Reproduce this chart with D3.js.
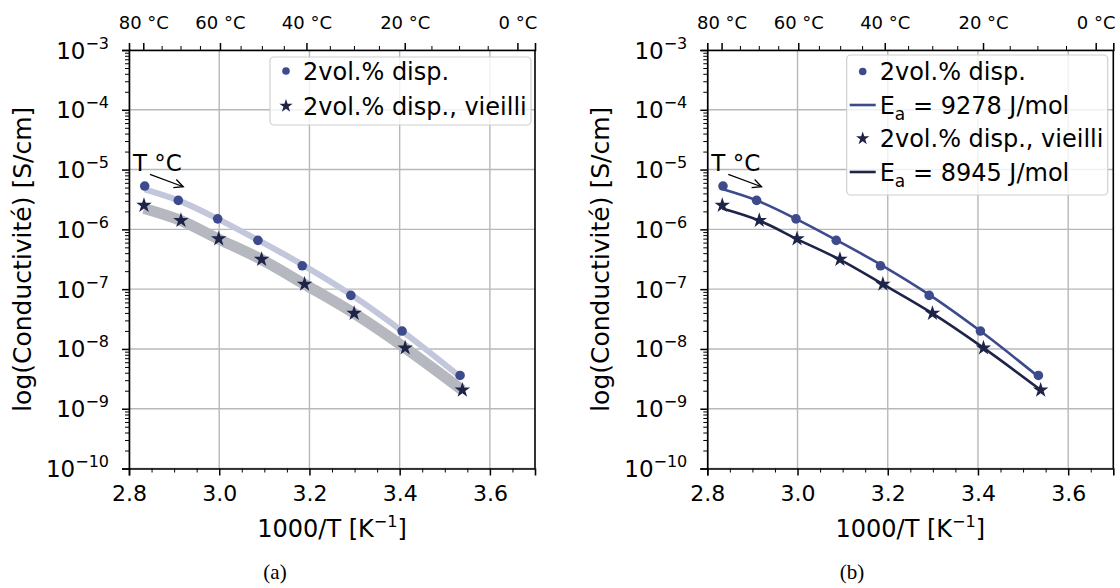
<!DOCTYPE html>
<html><head><meta charset="utf-8">
<script src="https://cdn.jsdelivr.net/npm/d3@7"></script>
<style>
body{margin:0;background:#fff;}
svg{display:block;font-family:"DejaVu Sans",sans-serif;}
</style></head>
<body><svg id="c" width="1120" height="588"></svg>
<script>
// ---- data ----
const xTicks = [2.8, 3.0, 3.2, 3.4, 3.6];
const xMinorTicks = [2.85, 2.9, 2.95, 3.05, 3.1, 3.15, 3.25, 3.3, 3.35, 3.45, 3.5, 3.55, 3.65];
const tempTicks = [80, 60, 40, 20, 0];
const tempMinorTicks = [75, 70, 65, 55, 50, 45, 35, 30, 25, 15, 10, 5];
const yDecades = [-3, -4, -5, -6, -7, -8, -9, -10];

const dispX = [2.8348, 2.9093, 2.9966, 3.0858, 3.1840, 3.2918, 3.4054, 3.5339];
const dispY = [5.30e-6, 3.05e-6, 1.50e-6, 6.55e-7, 2.46e-7, 7.86e-8, 1.99e-8, 3.60e-9];
const agedX = [2.8332, 2.9152, 2.9989, 3.0940, 3.1892, 3.2991, 3.4122, 3.5390];
const agedY = [2.52e-6, 1.41e-6, 6.95e-7, 3.15e-7, 1.21e-7, 3.93e-8, 1.04e-8, 2.05e-9];
const fitDispY = [4.67e-6, 3.05e-6, 1.50e-6, 6.62e-7, 2.58e-7, 8.11e-8, 1.99e-8, 3.44e-9];
const fitAgedY = [2.23e-6, 1.40e-6, 6.87e-7, 3.12e-7, 1.21e-7, 3.93e-8, 1.04e-8, 2.05e-9];

const labelDisp = "2vol.% disp.";
const labelAged = "2vol.% disp., vieilli";
const eaDisp = "9278";
const eaAged = "8945";
const captions = ["(a)", "(b)"];

// ---- styles ----
const cBlue = "#3d4b8c", cDark = "#1e2348";
const svg = d3.select("#c");
const plotTop = 50, plotBottom = 468.5;
const panels = [
  {left: 129, right: 535, fits: "band", legTop: 57, legH: 68, legStart: 71, legStep: 35},
  {left: 707.3, right: 1113.3, fits: "line", legTop: 55, legH: 140, legStart: 71.5, legStep: 33.5}
];

const starSym = d3.symbol().type(d3.symbolStar);
const toInv = t => 1000 / (t + 273.15);

panels.forEach((p, pi) => {
  const g = svg.append("g");
  const x = d3.scaleLinear().domain([2.8, 3.7]).range([p.left, p.right]);
  const y = d3.scaleLog().domain([1e-10, 1e-3]).range([plotBottom, plotTop]);

  // grid
  g.append("g").selectAll("line").data(xTicks).join("line")
    .attr("x1", d => x(d)).attr("x2", d => x(d)).attr("y1", plotTop).attr("y2", plotBottom)
    .attr("stroke", "#b8b8b8").attr("stroke-width", 1.4);
  g.append("g").selectAll("line").data(yDecades).join("line")
    .attr("x1", p.left).attr("x2", p.right).attr("y1", d => y(Math.pow(10, d))).attr("y2", d => y(Math.pow(10, d)))
    .attr("stroke", "#b8b8b8").attr("stroke-width", 1.4);

  // fits
  const lineD = d3.line().curve(d3.curveMonotoneX);
  const dispFit = lineD(dispX.map((d, i) => [x(d), y(fitDispY[i])]));
  const agedFit = lineD(agedX.map((d, i) => [x(d), y(fitAgedY[i])]));
  if (p.fits === "band") {
    g.append("path").attr("d", agedFit).attr("fill", "none").attr("stroke", "#b6b8c0").attr("stroke-width", 11);
    g.append("path").attr("d", dispFit).attr("fill", "none").attr("stroke", "#c3c7dc").attr("stroke-width", 6);
  } else {
    g.append("path").attr("d", dispFit).attr("fill", "none").attr("stroke", cBlue).attr("stroke-width", 2.6);
    g.append("path").attr("d", agedFit).attr("fill", "none").attr("stroke", cDark).attr("stroke-width", 2.6);
  }

  // markers
  g.append("g").selectAll("circle").data(dispX).join("circle")
    .attr("cx", d => x(d)).attr("cy", (d, i) => y(dispY[i])).attr("r", 4.8).attr("fill", cBlue);
  g.append("g").selectAll("path").data(agedX).join("path")
    .attr("d", starSym.size(75)())
    .attr("transform", (d, i) => `translate(${x(d)},${y(agedY[i])})`)
    .attr("fill", cDark);

  // axes
  const ax = g.append("g").attr("transform", `translate(0,${plotBottom})`)
    .call(d3.axisBottom(x).tickValues(xTicks).tickFormat(d3.format(".1f")).tickSize(7).tickPadding(10));
  g.append("g").attr("transform", `translate(0,${plotBottom})`)
    .call(d3.axisBottom(x).tickValues(xMinorTicks).tickFormat("").tickSize(4)).select(".domain").remove();

  const topAx = g.append("g").attr("transform", `translate(0,${plotTop})`)
    .call(d3.axisTop(x).tickValues(tempTicks.map(toInv)).tickFormat((d, i) => tempTicks[i] + " °C").tickSize(7).tickPadding(14));
  g.append("g").attr("transform", `translate(0,${plotTop})`)
    .call(d3.axisTop(x).tickValues(tempMinorTicks.map(toInv)).tickFormat("").tickSize(4)).select(".domain").remove();

  const yMinorVals = [];
  yDecades.slice(0, -1).forEach(e => { for (let k = 2; k <= 9; k++) yMinorVals.push(k * Math.pow(10, e - 1)); });

  const ay = g.append("g").attr("transform", `translate(${p.left},0)`)
    .call(d3.axisLeft(y).tickValues(yDecades.map(e => Math.pow(10, e))).tickFormat("").tickSize(7));
  g.append("g").attr("transform", `translate(${p.left},0)`)
    .call(d3.axisLeft(y).tickValues(yMinorVals).tickFormat("").tickSize(4)).select(".domain").remove();

  // right spine
  g.append("line").attr("x1", p.right).attr("x2", p.right).attr("y1", plotTop).attr("y2", plotBottom)
    .attr("stroke", "#000").attr("stroke-width", 1.6);

  [ax, topAx, ay].forEach(a => {
    a.select(".domain").attr("stroke-width", 1.6);
    a.selectAll(".tick line").attr("stroke-width", 1.5);
    a.selectAll("text").attr("font-family", "DejaVu Sans").attr("fill", "#000");
  });
  ax.selectAll("text").attr("font-size", 22);
  topAx.selectAll("text").attr("font-size", 18);
  g.selectAll(".tick line").attr("stroke", "#000");

  // y tick labels with superscript
  yDecades.forEach(e => {
    const t = g.append("text").attr("x", p.left - 20).attr("y", y(Math.pow(10, e)) + 8.5)
      .attr("text-anchor", "end").attr("font-size", 23);
    t.append("tspan").text("10");
    t.append("tspan").attr("dy", -10).attr("font-size", 16).text("−" + Math.abs(e));
  });

  // axis labels
  const xl = g.append("text").attr("x", (p.left + p.right) / 2).attr("y", 537)
    .attr("text-anchor", "middle").attr("font-size", 24);
  xl.append("tspan").text("1000/T [K");
  xl.append("tspan").attr("dy", -10).attr("font-size", 16).text("−1");
  xl.append("tspan").attr("dy", 10).text("]");

  g.append("text").attr("transform", `translate(${p.left - 98},${(plotTop + plotBottom) / 2}) rotate(-90)`)
    .attr("text-anchor", "middle").attr("font-size", 25).text("log(Conductivité) [S/cm]");

  // annotation
  g.append("text").attr("x", x(2.8089)).attr("y", y(9.4e-6)).attr("font-size", 23).text("T °C");
  const ax0 = x(2.8465), ay0 = y(8.3e-6), ax1 = x(2.9203), ay1 = y(5.16e-6);
  g.append("line").attr("x1", ax0).attr("y1", ay0).attr("x2", ax1).attr("y2", ay1).attr("stroke", "#000").attr("stroke-width", 1.3);
  const ang = Math.atan2(ay1 - ay0, ax1 - ax0);
  const hl = 10, ha = 0.45;
  g.append("path").attr("d", `M${ax1 - hl * Math.cos(ang - ha)},${ay1 - hl * Math.sin(ang - ha)} L${ax1},${ay1} L${ax1 - hl * Math.cos(ang + ha)},${ay1 - hl * Math.sin(ang + ha)}`)
    .attr("fill", "none").attr("stroke", "#000").attr("stroke-width", 1.3);

  // legend
  const entries = p.fits === "band"
    ? [{type: "circle", label: labelDisp}, {type: "star", label: labelAged}]
    : [{type: "circle", label: labelDisp}, {type: "line", color: cBlue, ea: eaDisp},
       {type: "star", label: labelAged}, {type: "line", color: cDark, ea: eaAged}];
  const lx = p.left + (p.fits === "band" ? 141 : 139.4);
  g.append("rect").attr("x", lx).attr("y", p.legTop).attr("width", 261).attr("height", p.legH).attr("rx", 4)
    .attr("fill", "#fff").attr("fill-opacity", 0.8).attr("stroke", "#d0d0d0").attr("stroke-width", 1.2);
  entries.forEach((en, i) => {
    const cy = p.legStart + i * p.legStep;
    const mx = lx + 16;
    if (en.type === "circle") g.append("circle").attr("cx", mx).attr("cy", cy).attr("r", 3.8).attr("fill", cBlue);
    else if (en.type === "star") g.append("path").attr("d", starSym.size(55)()).attr("transform", `translate(${mx},${cy})`).attr("fill", cDark);
    else g.append("line").attr("x1", mx - 13).attr("x2", mx + 13).attr("y1", cy).attr("y2", cy).attr("stroke", en.color).attr("stroke-width", 2.6);
    const t = g.append("text").attr("x", lx + 33).attr("y", cy + 8.5).attr("font-size", 24);
    if (en.label) t.text(en.label);
    else {
      t.append("tspan").text("E");
      t.append("tspan").attr("dy", 6).attr("font-size", 17).text("a");
      t.append("tspan").attr("dy", -6).text(" = " + en.ea + " J/mol");
    }
  });

  // caption
  svg.append("text").attr("x", pi === 0 ? 275 : 852).attr("y", 579).attr("text-anchor", "middle")
    .attr("font-family", "Liberation Serif, serif").attr("font-size", 21).text(captions[pi]);
});
</script></body></html>
